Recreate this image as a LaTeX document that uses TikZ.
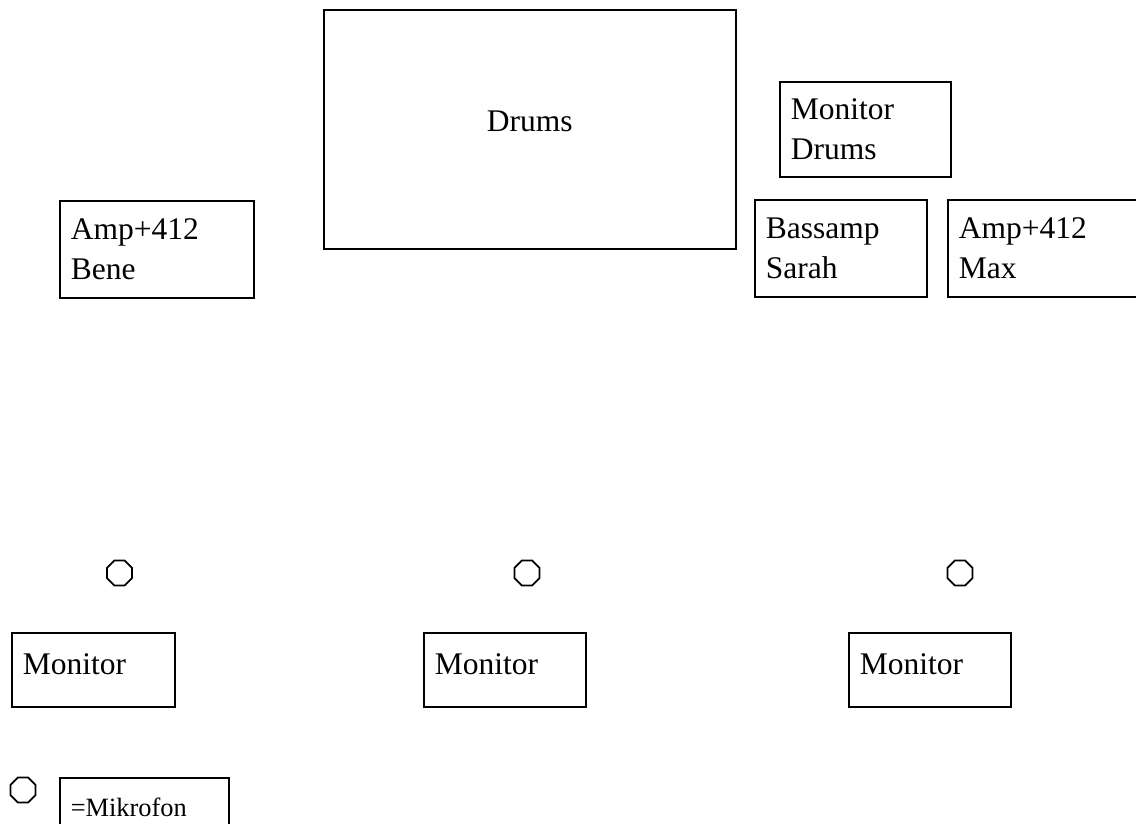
\documentclass[tikz,border=0pt]{standalone}
\usepackage{fontspec}
\setmainfont{Liberation Serif}
\usetikzlibrary{shapes.geometric}

\begin{document}
\begin{tikzpicture}[x=1pt,y=-1pt,
  stagebox/.style={draw, line width=1.6pt, anchor=north west, inner xsep=11pt, inner ysep=0pt, align=left, font=\fontsize{31.5}{40}\selectfont},
  mic/.style={draw, line width=1.8pt, regular polygon, regular polygon sides=8, minimum size=27pt, inner sep=0pt}]
\useasboundingbox (0,0) rectangle (1136,823);
\node[stagebox, align=center, text width=390pt, minimum height=239pt, text depth=16pt] (drums) at (323,9) {Drums};
\node[stagebox, text width=149pt, minimum height=95pt] (mondrums) at (779,81) {Monitor\\Drums};
\node[stagebox, text width=172pt, minimum height=97pt] (bene) at (59,200) {Amp+412\\Bene};
\node[stagebox, text width=150pt, minimum height=97pt] (sarah) at (754,199) {Bassamp\\Sarah};
\node[stagebox, text width=178pt, minimum height=97pt] (max) at (947,199) {Amp+412\\Max};
\node[mic] (micl) at (119.5,573) {};
\node[mic] (micm) at (527,573) {};
\node[mic] (micr) at (960,573) {};
\node[stagebox, text width=141pt, minimum height=74pt, text depth=12pt] (monl) at (11,632) {Monitor};
\node[stagebox, text width=140pt, minimum height=74pt, text depth=12pt] (monm) at (423,632) {Monitor};
\node[stagebox, text width=140pt, minimum height=74pt, text depth=12pt] (monr) at (848,632) {Monitor};
\node[mic] (miclegend) at (23,790) {};
\node[stagebox, text width=147pt, minimum height=60pt, font=\fontsize{26.4}{32}\selectfont] (legend) at (59,777) {=Mikrofon};
\end{tikzpicture}
\end{document}
